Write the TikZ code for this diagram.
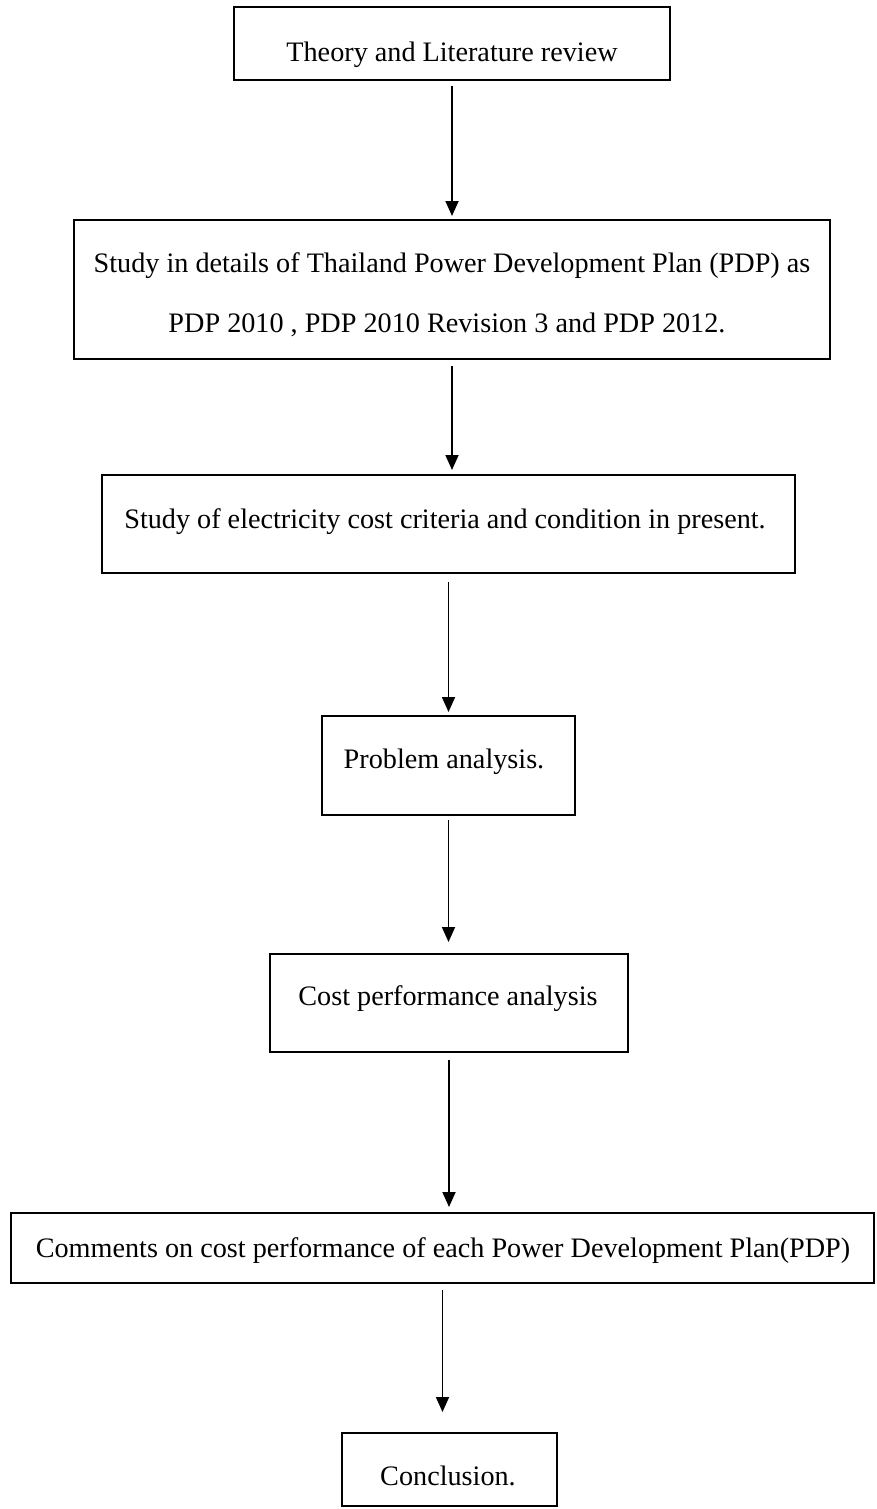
\documentclass[tikz,border=0pt]{standalone}
\usepackage{fontspec}
\setmainfont{Liberation Serif}
\usetikzlibrary{arrows.meta}
\begin{document}
\begin{tikzpicture}[x=1pt,y=-1pt,
  box/.style={draw, line width=1.8pt, inner sep=0pt, outer sep=0pt},
  txt/.style={anchor=base, inner sep=0pt, font=\fontsize{28.2pt}{34pt}\selectfont},
  arr/.style={line width=1.8pt, -{Triangle[width=13pt,length=15pt]}}]
\useasboundingbox (0,0) rectangle (876,1509);
\fill[white] (0,0) rectangle (876,1509);
% boxes
\node[box, minimum width=436pt, minimum height=73pt] (b1) at (452,43.5) {};
\node[box, minimum width=756pt, minimum height=139pt] (b2) at (452,289.5) {};
\node[box, minimum width=693pt, minimum height=98pt] (b3) at (448.5,524) {};
\node[box, minimum width=253pt, minimum height=99pt] (b4) at (448.5,765.5) {};
\node[box, minimum width=358pt, minimum height=98pt] (b5) at (449,1003) {};
\node[box, minimum width=863pt, minimum height=70pt] (b6) at (442.5,1248) {};
\node[box, minimum width=215pt, minimum height=73pt] (b7) at (449.5,1469.5) {};
% texts
\node[txt] (t1) at (452,62) {Theory and Literature review};
\node[txt] (t2a) at (452,272.5) {Study in details of Thailand Power Development Plan (PDP) as};
\node[txt] (t2b) at (447,332) {PDP 2010 , PDP 2010 Revision 3 and PDP 2012.};
\node[txt] (t3) at (445,528) {Study of electricity cost criteria and condition in present.};
\node[txt] (t4) at (444,768) {Problem analysis.};
\node[txt] (t5) at (448,1005) {Cost performance analysis};
\node[txt] (t6) at (443,1257) {Comments on cost performance of each Power Development Plan(PDP)};
\node[txt] (t7) at (448,1485) {Conclusion.};
% arrows
\draw[arr, shorten <=6pt, shorten >=4pt] (b1.south) -- (b1.south |- b2.north);
\draw[arr, shorten <=7pt, shorten >=5pt] (b2.south) -- (b2.south |- b3.north);
\draw[arr, shorten <=9pt, shorten >=4pt] (b3.south) -- (b3.south |- b4.north);
\draw[arr, shorten <=5pt, shorten >=12pt] (b4.south) -- (b4.south |- b5.north);
\draw[arr, shorten <=8pt, shorten >=6pt] (b5.south) -- (b5.south |- b6.north);
\draw[arr, shorten <=7pt, shorten >=21pt] (b6.south) -- (b6.south |- b7.north);
\end{tikzpicture}
\end{document}
